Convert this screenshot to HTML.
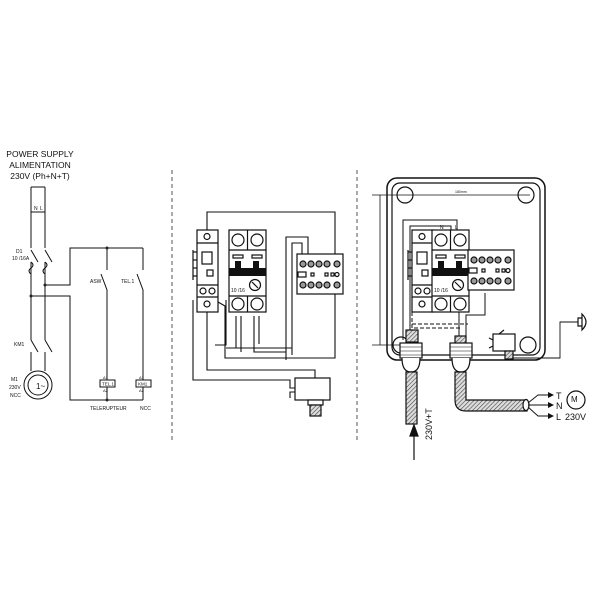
<!DOCTYPE html>
<html><head><meta charset="utf-8"><style>
html,body{margin:0;padding:0;background:#fff}
svg{display:block}
text{font-family:"Liberation Sans",sans-serif;fill:#111}
</style></head><body>
<svg width="603" height="603" viewBox="0 0 603 603" xmlns="http://www.w3.org/2000/svg" stroke="#111" fill="none" stroke-width="1.2">
<defs>
<pattern id="h" width="3" height="3" patternUnits="userSpaceOnUse" patternTransform="rotate(45)"><rect width="3" height="3" fill="#ddd" stroke="none"/><line x1="0" y1="0" x2="0" y2="3" stroke="#444" stroke-width="1.2"/></pattern>
<g id="brk">
<rect x="0" y="0" width="37" height="82" fill="#fff"/>
<line x1="18.5" y1="0" x2="18.5" y2="20"/><line x1="18.5" y1="66" x2="18.5" y2="82"/>
<circle cx="9" cy="10" r="6"/><circle cx="28" cy="10" r="6"/>
<line x1="0" y1="20" x2="37" y2="20"/>
<rect x="4" y="25" width="10" height="3"/><rect x="23" y="25" width="10" height="3"/>
<rect x="0" y="38" width="37" height="8" fill="#111" stroke="none"/>
<rect x="6" y="31" width="6" height="8" fill="#111" stroke="none"/><rect x="24" y="31" width="6" height="8" fill="#111" stroke="none"/>
<circle cx="26" cy="55" r="5.5"/><line x1="23" y1="52" x2="29" y2="58"/>
<line x1="0" y1="66" x2="37" y2="66"/>
<circle cx="9" cy="74" r="6"/><circle cx="28" cy="74" r="6"/>
</g>
<g id="rel">
<rect x="0" y="0" width="46" height="40" fill="#fff"/>
<g fill="#999"><circle cx="6" cy="10" r="3"/><circle cx="14" cy="10" r="3"/><circle cx="22" cy="10" r="3"/><circle cx="30" cy="10" r="3"/><circle cx="40" cy="10" r="3"/>
<circle cx="6" cy="31" r="3"/><circle cx="14" cy="31" r="3"/><circle cx="22" cy="31" r="3"/><circle cx="30" cy="31" r="3"/><circle cx="40" cy="31" r="3"/></g>
<rect x="1" y="18" width="8" height="5"/><rect x="14" y="19" width="3" height="3"/><rect x="28" y="19" width="3" height="3"/><rect x="34" y="19" width="3" height="3"/><circle cx="40" cy="20.5" r="2"/>
</g>
<g id="mod">
<rect x="0" y="0" width="21" height="82" fill="#fff"/>
<line x1="0" y1="13" x2="21" y2="13"/><circle cx="10" cy="6.5" r="3"/>
<rect x="5" y="22" width="10" height="12"/><rect x="10" y="40" width="6" height="6"/>
<line x1="0" y1="55" x2="21" y2="55"/><circle cx="6" cy="61" r="3"/><circle cx="15" cy="61" r="3"/>
<line x1="0" y1="67" x2="21" y2="67"/><circle cx="10" cy="74" r="3"/>
<line x1="-4" y1="20" x2="-4" y2="50"/><line x1="0" y1="22" x2="-4" y2="22"/><line x1="0" y1="30" x2="-4" y2="30"/><line x1="0" y1="38" x2="-4" y2="38"/><line x1="0" y1="46" x2="-4" y2="46"/>
</g>
</defs>

<!-- LEFT PANEL -->
<g font-size="8.5" text-anchor="middle" stroke="none">
<text x="40" y="157">POWER SUPPLY</text>
<text x="40" y="168">ALIMENTATION</text>
<text x="40" y="179">230V (Ph+N+T)</text>
</g>
<g stroke-width="1">
<path d="M31 187 H45 M31 187 V248 M45 187 V248"/>
<line x1="31" y1="212" x2="45" y2="212"/>
<path d="M31 250 L38 262 M45 250 L52 262 M31 262 V340 M45 262 V340"/>
<path d="M31 262 q4 3 0 6 q-4 3 0 6 M45 262 q4 3 0 6 q-4 3 0 6"/>
<path d="M45 285 H70 V248 H143 M31 296 H70 V400 H143 M107 248 V270 M101 274 L107 290 V380 M107 386 V400 M143 248 V270 M137 274 L143 290 V380 M143 386 V400"/>
<path d="M31 340 L38 352 M45 340 L52 352 M31 352 V371 M45 352 V371"/>
<circle cx="38" cy="385" r="14"/><circle cx="38" cy="385" r="10"/>
<rect x="100" y="380" width="15" height="7" fill="#fff"/><rect x="136" y="380" width="15" height="7" fill="#fff"/>
</g>
<g fill="#222" stroke="none"><circle cx="107" cy="248" r="1.5"/><circle cx="45" cy="285" r="1.5"/><circle cx="31" cy="296" r="1.5"/><circle cx="107" cy="400" r="1.5"/></g>
<g font-size="5" stroke="none">
<text x="34" y="210">N</text><text x="40" y="210">L</text>
<text x="16" y="253">D1</text><text x="12" y="260">10 /16A</text>
<text x="14" y="346">KM1</text>
<text x="90" y="283">ASW</text><text x="121" y="283">TEL.1</text>
<text x="102" y="385.5" font-size="4.5">TEL.1</text><text x="138" y="385.5" font-size="4.5">KM1</text>
<text x="103" y="379" font-size="4">A1</text><text x="103" y="392" font-size="4">A2</text>
<text x="139" y="379" font-size="4">A1</text><text x="139" y="392" font-size="4">A2</text>
<text x="11" y="381">M1</text><text x="9" y="389">230V</text><text x="10" y="397">NCC</text>
<text x="90" y="410">TELERUPTEUR</text><text x="140" y="410">NCC</text>
<text x="36" y="389" font-size="8">1~</text>
</g>

<!-- dashed separators -->
<g stroke="#444" stroke-dasharray="4,3" stroke-width="0.9">
<line x1="172" y1="170" x2="172" y2="442"/><line x1="357" y1="170" x2="357" y2="442"/>
</g>

<!-- MIDDLE PANEL -->
<g stroke-width="1.1">
<path d="M207 233 V212 H335 V258"/>
<path d="M286 360 V237 H308 V258 M292 355 V243 H302 V256"/>
<path d="M236 316 V348 H292 M241 316 V352 M254 316 V352 H286 M259 316 V344"/>
<path d="M226 348 H236 M215 345 H226 V300"/>
<path d="M218 302 L225 306 V358 H335 V293"/>
<path d="M193 300 V380 H290 V388 H295"/>
<path d="M207 312 V370 H315 V378"/>
<path d="M295 392 H290 V398"/>
</g>
<use href="#mod" x="197" y="230"/>
<use href="#brk" x="229" y="230"/>
<text x="231" y="292" font-size="5" stroke="none">10 /16</text>
<use href="#rel" x="297" y="254"/>
<rect x="295" y="378" width="35" height="22" fill="#fff"/>
<rect x="308" y="400" width="15" height="5" fill="#fff"/>
<rect x="310" y="405" width="11" height="11" fill="url(#h)"/>

<!-- RIGHT PANEL -->
<rect x="387" y="178" width="158" height="182" rx="10" fill="#fff" stroke-width="1.5"/>
<rect x="392" y="183" width="148" height="172" rx="8"/>
<circle cx="405" cy="195" r="8"/><circle cx="526" cy="195" r="8"/><circle cx="401" cy="345" r="8"/><circle cx="528" cy="345" r="8"/>
<g stroke-width="0.8">
<line x1="372" y1="195" x2="530" y2="195"/><line x1="380" y1="195" x2="380" y2="345"/><line x1="372" y1="345" x2="405" y2="345"/>
</g>
<text x="455" y="193" font-size="3.5" stroke="none">180mm</text>
<g stroke-width="1">
<path d="M403 340 V220 H457 V232 M410 336 V226 H451 V232"/>
<path d="M459 338 V312 M466 338 V315 H485 V293"/>
<path d="M412 312 V324 H468 M412 318 V328 H462" stroke-dasharray="4,2"/>
</g>
<use href="#mod" x="412" y="230"/>
<use href="#brk" x="432" y="230"/>
<text x="434" y="292" font-size="5" stroke="none">10 /16</text>
<text x="440" y="229" font-size="5" stroke="none">N</text><text x="455" y="229" font-size="5" stroke="none">L</text>
<use href="#rel" x="468" y="250"/>
<!-- glands -->
<rect x="406" y="330" width="12" height="12" fill="url(#h)"/>
<rect x="400" y="343" width="22" height="15" fill="#fff"/>
<path d="M400 347 H422 M400 351 H422 M400 355 H422" stroke-width="0.6"/>
<path d="M402 358 Q402 372 411 372 Q420 372 420 358" fill="#fff"/>
<rect x="406" y="372" width="11" height="52" fill="url(#h)"/>
<rect x="455" y="336" width="11" height="8" fill="url(#h)"/>
<rect x="450" y="343" width="22" height="15" fill="#fff"/>
<path d="M450 347 H472 M450 351 H472 M450 355 H472" stroke-width="0.6"/>
<path d="M452 358 Q452 372 461 372 Q470 372 470 358" fill="#fff"/>
<path d="M455 372 V400 Q455 411 466 411 H527 V400 H466 V372 Z" fill="url(#h)"/>
<ellipse cx="526" cy="405" rx="3" ry="5.5" fill="#fff"/>
<path d="M528 403 L538 395 H548 M528 405 H548 M528 407 L538 416 H548" stroke-width="0.9"/>
<g fill="#111" stroke="none"><path d="M548 392 l6 3 l-6 3z M548 402 l6 3 l-6 3z M548 413 l6 3 l-6 3z"/></g>
<g font-size="9" stroke="none"><text x="556" y="399">T</text><text x="556" y="409">N</text><text x="556" y="420">L</text></g>
<circle cx="576" cy="400" r="9"/><text x="571" y="402" font-size="8" stroke="none">M</text>
<text x="565" y="420" font-size="9" stroke="none">230V</text>
<line x1="414" y1="460" x2="414" y2="432"/><path d="M410 436 L414 425 L418 436Z" fill="#111"/>
<text transform="translate(432,440) rotate(-90)" font-size="9" stroke="none">230V+T</text>
<!-- pressure switch -->
<rect x="493" y="334" width="22" height="17" fill="#fff"/>
<rect x="505" y="351" width="8" height="8" fill="url(#h)"/>
<path d="M499 334 L504 330 M493 340 L489 338 M493 346 L489 348"/>
<path d="M513 358 H560 V322 H578" stroke-width="0.9"/>
<path d="M578 318 H582 V326 H578Z M582 314 Q590 322 582 330 Z" fill="#fff"/>
</svg>
</body></html>
